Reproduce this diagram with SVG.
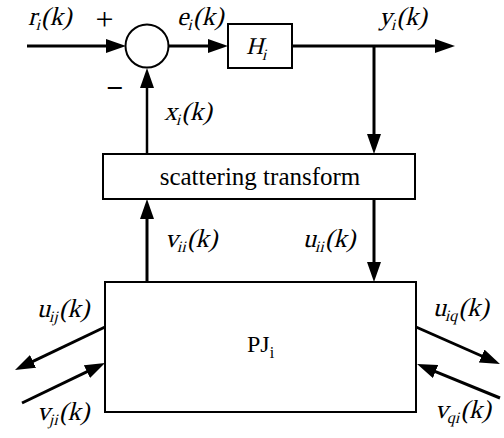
<svg xmlns="http://www.w3.org/2000/svg" width="504" height="438" viewBox="0 0 504 438">
<style>
text{font-family:"Liberation Serif","Times New Roman",serif;fill:#000;font-style:normal}
.v{font-size:26px}
.s{font-size:16px}
.box{fill:#fff;stroke:#000;stroke-width:2}
.c{stroke:#000;stroke-width:3;fill:none}
</style>
<defs>
<marker id="ah" markerUnits="userSpaceOnUse" markerWidth="20" markerHeight="14" refX="10" refY="7" orient="auto">
<path d="M0,0 L20,7 L0,14 Z" fill="#000"/>
</marker>
</defs>
<rect width="504" height="438" fill="#fff"/>
<g id="connectors">
<line class="c" x1="27" y1="46" x2="116" y2="46" marker-end="url(#ah)"/>
<line class="c" x1="168.5" y1="46" x2="218" y2="46" marker-end="url(#ah)"/>
<line class="c" x1="292" y1="46" x2="445" y2="46" marker-end="url(#ah)"/>
<line class="c" x1="374" y1="46" x2="374" y2="144" marker-end="url(#ah)"/>
<line class="c" x1="147" y1="154" x2="147" y2="78" marker-end="url(#ah)" style="stroke-width:2.5"/>
<line class="c" x1="147" y1="282" x2="147" y2="209" marker-end="url(#ah)"/>
<line class="c" x1="374" y1="199" x2="374" y2="272" marker-end="url(#ah)"/>
<line class="c" x1="105" y1="327" x2="24" y2="365.7" marker-end="url(#ah)"/>
<line class="c" x1="22" y1="403" x2="96" y2="367.3" marker-end="url(#ah)"/>
<line class="c" x1="416" y1="327" x2="490.8" y2="360" marker-end="url(#ah)"/>
<line class="c" x1="500" y1="398" x2="426.3" y2="367.8" marker-end="url(#ah)"/>
</g>
<g id="sum">
<circle class="box" cx="147" cy="46" r="21.5"/>
</g>
<g id="H">
<rect class="box" x="228" y="24" width="64" height="44"/>
<text transform="translate(246,54) skewX(-14)" style="font-size:24px">H<tspan class="s" dy="6">i</tspan></text>
</g>
<g id="scatter">
<rect class="box" x="103" y="154" width="312" height="45"/>
<text x="260" y="185" text-anchor="middle" style="font-size:25px">scattering transform</text>
</g>
<g id="PJ">
<rect class="box" x="105" y="282" width="311" height="130"/>
<text x="247" y="352" style="font-size:24px">PJ<tspan class="s" dy="6">i</tspan></text>
</g>
<g id="labels">
<text class="v" transform="translate(28,25) skewX(-14)">r<tspan class="s" dy="5">i</tspan><tspan dy="-5">(k)</tspan></text>
<text x="104.5" y="30" text-anchor="middle" style="font-size:32px">+</text>
<text x="114.5" y="98" text-anchor="middle" style="font-size:30px;font-weight:bold">−</text>
<text class="v" transform="translate(177,25) skewX(-14)">e<tspan class="s" dy="5">i</tspan><tspan dy="-5">(k)</tspan></text>
<text class="v" transform="translate(379,25) skewX(-14)">y<tspan class="s" dy="5">i</tspan><tspan dy="-5">(k)</tspan></text>
<text class="v" transform="translate(164,120) skewX(-14)">x<tspan class="s" dy="5">i</tspan><tspan dy="-5">(k)</tspan></text>
<text class="v" transform="translate(165,247) skewX(-14)">v<tspan class="s" dy="5">ii</tspan><tspan dy="-5">(k)</tspan></text>
<text class="v" transform="translate(303,247) skewX(-14)">u<tspan class="s" dy="5">ii</tspan><tspan dy="-5">(k)</tspan></text>
<text class="v" transform="translate(37,317) skewX(-14)">u<tspan class="s" dy="5">ij</tspan><tspan dy="-5">(k)</tspan></text>
<text class="v" transform="translate(37,420) skewX(-14)">v<tspan class="s" dy="5">ji</tspan><tspan dy="-5">(k)</tspan></text>
<text class="v" transform="translate(433,316) skewX(-14)">u<tspan class="s" dy="5">iq</tspan><tspan dy="-5">(k)</tspan></text>
<text class="v" transform="translate(435,418) skewX(-14)">v<tspan class="s" dy="5">qi</tspan><tspan dy="-5">(k)</tspan></text>
</g>
</svg>
